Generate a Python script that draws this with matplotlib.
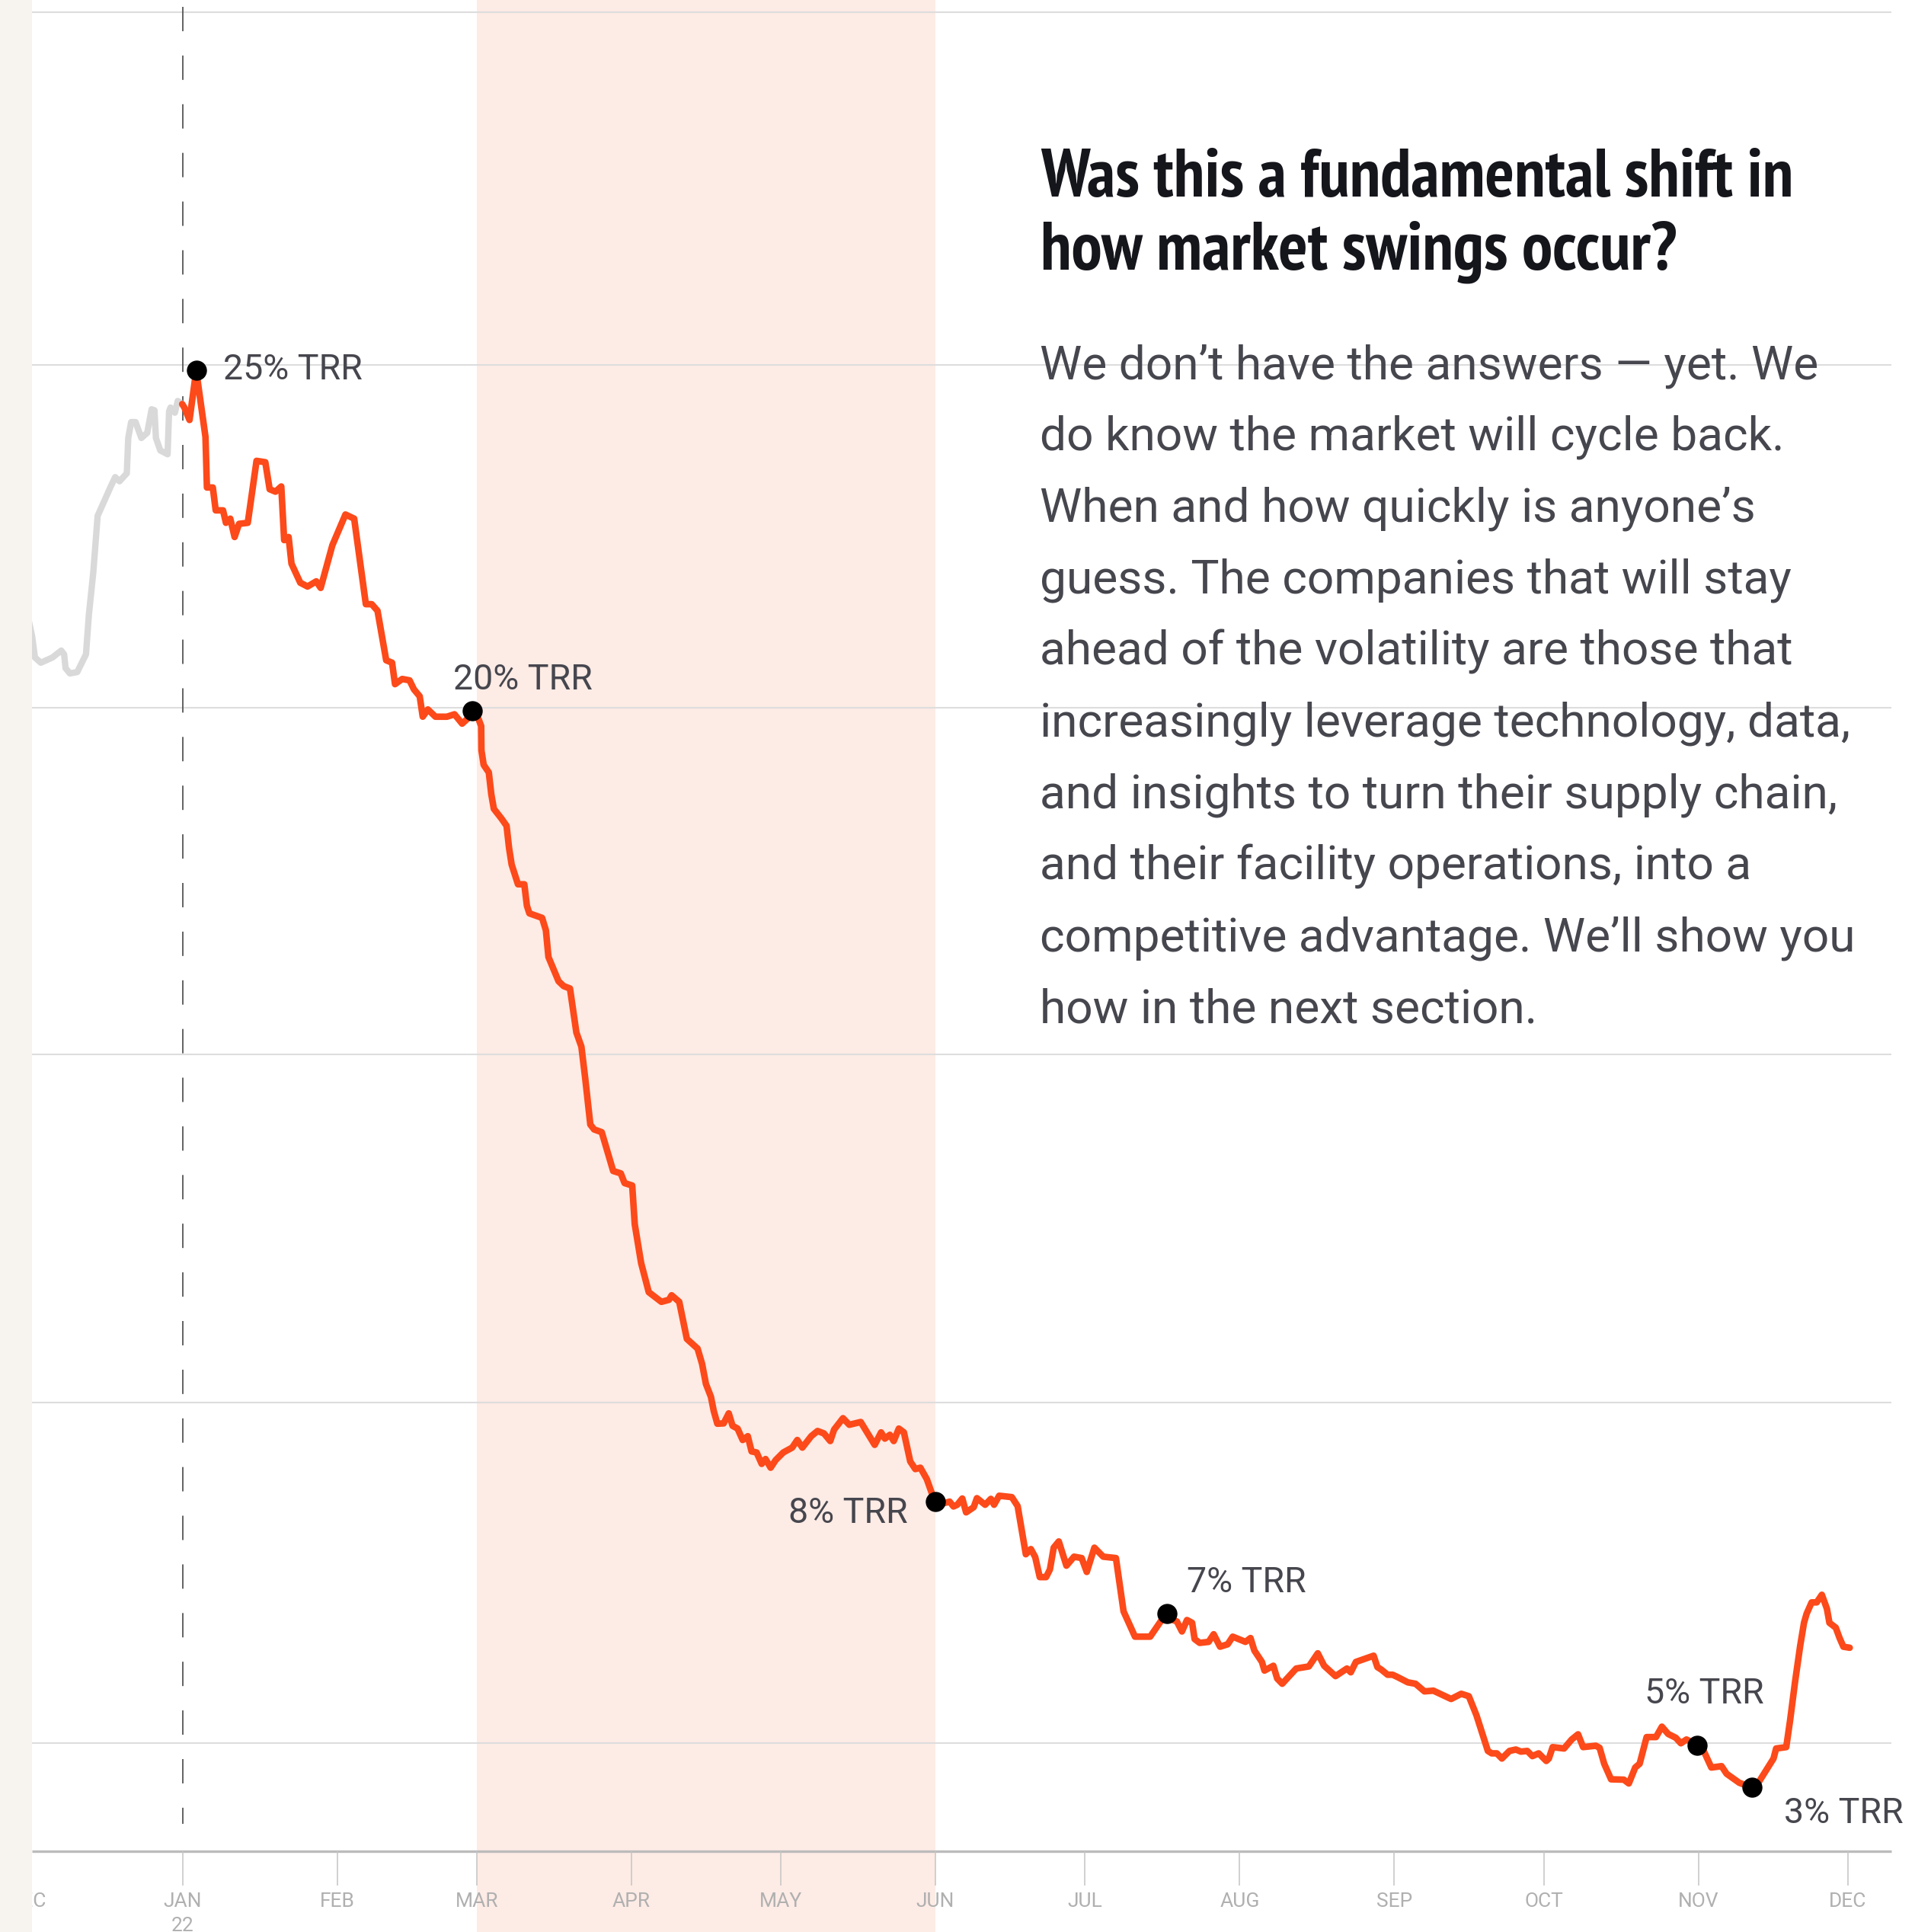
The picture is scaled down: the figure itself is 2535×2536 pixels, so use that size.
import numpy as np
import pandas as pd
import matplotlib
matplotlib.use("Agg")
import matplotlib.pyplot as plt
from matplotlib import font_manager as fm

plt.rcParams['lines.scale_dashes'] = False

# rate index, day offsets counted from 2022-01-01
prior_days = [-30.8, -30.17, -29.59, -28.41, -26.08, -24.32, -23.74, -23.45, -22.58, -21.11,
              -19.36, -18.78, -17.89, -17.02, -14.39, -13.50, -12.63, -11.17, -10.88, -10.30,
              -9.41, -8.25, -7.07, -6.20, -5.62, -5.33, -4.45, -2.99, -2.69, -2.40,
              -1.53, -0.95, -0.06]
prior_vals = [42.40, 41.98, 41.36, 41.21, 41.36, 41.56, 41.45, 41.05, 40.90, 40.94,
              41.45, 42.59, 43.82, 45.45, 46.30, 46.57, 46.45, 46.68, 47.70, 48.16,
              48.16, 47.70, 47.85, 48.53, 48.50, 47.70, 47.34, 47.23, 48.47, 48.58,
              48.43, 48.77, 48.68]

days = [0.37, 1.41, 2.75, 4.61, 4.90, 6.08, 6.66, 8.13, 8.71, 9.58,
        10.45, 11.34, 13.09, 14.85, 16.61, 17.48, 18.65, 19.81, 20.39, 21.28,
        21.86, 23.62, 25.08, 26.83, 27.71, 30.05, 32.68, 34.43, 36.77, 37.95,
        39.11, 40.85, 42.03, 42.62, 44.06, 45.54, 46.41, 47.57, 48.18, 49.21,
        50.73, 53.03, 54.55, 56.08, 57.61, 58.11, 59.38, 59.90, 59.95, 60.40,
        61.43, 61.93, 62.44, 63.96, 64.99, 65.49, 66.01, 67.28, 68.55, 69.07,
        69.57, 72.12, 72.88, 73.39, 75.42, 76.44, 77.71, 78.99, 80.00, 80.77,
        81.79, 82.55, 84.08, 86.37, 87.90, 88.66, 90.19, 90.70, 91.98, 93.51,
        96.04, 97.57, 98.09, 99.62, 101.15, 103.30, 104.20, 104.97, 105.97, 106.54,
        107.26, 108.53, 109.55, 110.31, 111.32, 112.34, 113.37, 114.13, 115.14, 116.16,
        116.93, 117.95, 118.96, 120.49, 122.27, 123.30, 124.31, 126.09, 127.36, 128.64,
        129.91, 130.68, 132.46, 133.73, 136.02, 138.82, 140.10, 140.86, 141.87, 142.64,
        143.66, 144.68, 145.95, 146.97, 147.98, 149.27, 150.28, 151.07, 152.57, 153.85,
        154.62, 155.38, 156.39, 157.15, 158.68, 159.32, 160.97, 162.12, 162.76, 163.78,
        166.32, 167.49, 169.13, 170.14, 171.01, 171.92, 173.19, 173.96, 174.72, 175.74,
        177.27, 178.80, 180.33, 181.35, 182.88, 184.65, 187.20, 188.73, 191.02, 194.07,
        196.36, 197.39, 198.66, 199.42, 200.44, 201.45, 202.48, 202.98, 204.00, 205.79,
        206.80, 208.08, 209.61, 210.62, 213.17, 214.19, 214.96, 216.48, 216.99, 218.77,
        219.54, 220.55, 223.36, 225.89, 227.68, 228.95, 231.24, 233.53, 234.30, 235.32,
        238.88, 239.64, 240.41, 241.69, 242.70, 243.72, 245.75, 247.28, 249.07, 250.86,
        254.42, 256.45, 257.97, 259.50, 261.79, 262.56, 263.58, 264.60, 266.13, 267.40,
        268.42, 269.69, 270.72, 271.98, 273.51, 274.02, 274.78, 277.07, 278.60, 279.88,
        280.89, 283.44, 284.20, 285.12, 286.50, 289.05, 290.06, 291.34, 292.23, 293.63,
        295.51, 296.69, 297.95, 299.48, 300.50, 301.62, 303.80, 305.08, 306.61, 308.65,
        309.67, 312.21, 314.76, 316.03, 317.81, 319.08, 319.60, 321.63, 322.40, 323.42,
        324.43, 325.19, 325.71, 326.72, 327.74, 328.77, 329.78, 330.29, 331.56, 332.33,
        333.09, 334.36]
vals = [48.58, 48.22, 49.65, 47.73, 46.27, 46.27, 45.61, 45.61, 45.25, 45.37,
        44.84, 45.22, 45.25, 47.04, 47.00, 46.22, 46.15, 46.30, 44.75, 44.84,
        44.07, 43.52, 43.41, 43.56, 43.37, 44.60, 45.49, 45.37, 42.90, 42.90,
        42.71, 41.28, 41.21, 40.59, 40.74, 40.70, 40.44, 40.24, 39.65, 39.86,
        39.65, 39.65, 39.72, 39.45, 39.65, 39.82, 39.58, 39.38, 38.68, 38.26,
        38.04, 37.41, 36.99, 36.71, 36.50, 35.86, 35.38, 34.81, 34.81, 34.19,
        33.97, 33.84, 33.48, 32.71, 32.01, 31.87, 31.80, 30.53, 30.12, 29.20,
        27.87, 27.73, 27.65, 26.53, 26.46, 26.18, 26.11, 24.99, 23.87, 23.03,
        22.75, 22.81, 22.94, 22.75, 21.68, 21.40, 20.96, 20.38, 20.01, 19.60,
        19.23, 19.24, 19.53, 19.17, 19.09, 18.76, 18.87, 18.43, 18.40, 18.07,
        18.21, 17.96, 18.18, 18.40, 18.54, 18.76, 18.54, 18.87, 19.02, 18.95,
        18.73, 19.06, 19.39, 19.20, 19.28, 18.62, 18.98, 18.80, 18.91, 18.73,
        19.09, 18.98, 18.14, 17.92, 17.96, 17.63, 17.22, 16.98, 16.93, 16.98,
        16.84, 16.89, 17.07, 16.67, 16.82, 17.08, 16.89, 17.06, 16.89, 17.15,
        17.11, 16.85, 15.46, 15.61, 15.38, 14.80, 14.80, 15.02, 15.65, 15.83,
        15.13, 15.39, 15.35, 14.95, 15.65, 15.39, 15.35, 13.81, 13.08, 13.08,
        13.56, 13.75, 13.56, 13.52, 13.23, 13.56, 13.48, 13.01, 12.90, 12.93,
        13.15, 12.79, 12.86, 13.08, 12.93, 13.04, 12.68, 12.35, 12.10, 12.24,
        11.87, 11.72, 12.16, 12.22, 12.60, 12.24, 11.94, 12.16, 12.05, 12.35,
        12.53, 12.20, 12.13, 11.98, 11.98, 11.91, 11.76, 11.72, 11.50, 11.52,
        11.28, 11.43, 11.36, 10.81, 9.78, 9.71, 9.71, 9.56, 9.78, 9.82,
        9.76, 9.78, 9.63, 9.71, 9.49, 9.56, 9.89, 9.85, 10.11, 10.26,
        9.89, 9.93, 9.87, 9.41, 8.96, 8.95, 8.84, 9.30, 9.41, 10.18,
        10.18, 10.48, 10.27, 10.16, 10.00, 10.11, 9.95, 9.78, 9.30, 9.34,
        9.12, 8.86, 8.72, 8.86, 9.27, 9.56, 9.85, 9.89, 10.66, 11.80,
        12.82, 13.48, 13.74, 14.07, 14.07, 14.29, 13.89, 13.48, 13.34, 13.04,
        12.79, 12.76]

# TRR call-outs: day of the marker, label
trr_days = [2.75, 58.11, 151.07, 197.39, 303.80, 314.76]
trr_labels = ["25% TRR", "20% TRR", "8% TRR", "7% TRR", "5% TRR", "3% TRR"]
# label offsets from the marker (points) and alignment
trr_offsets = [(25.2, -8.3), (-18.3, 20.2), (-26.5, -20.4), (19.2, 20.4), (-49.7, 39.4), (30.0, -33.6)]
trr_ha = ["left", "left", "right", "left", "left", "left"]

grid_vals = [10.0, 19.84, 29.9, 39.92, 49.81, 60.0]
shade_start, shade_end = 59, 151      # Mar 1 .. Jun 1

month_starts = pd.date_range("2021-12-01", "2022-12-01", freq="MS")
month_days = list((month_starts - pd.Timestamp("2022-01-01")).days)
month_labels = [d.strftime("%b").upper() for d in month_starts]

title_lines = ["Was this a fundamental shift in", "how market swings occur?"]
body_lines = [
    "We don\u2019t have the answers \u2014 yet. We",
    "do know the market will cycle back.",
    "When and how quickly is anyone\u2019s",
    "guess. The companies that will stay",
    "ahead of the volatility are those that",
    "increasingly leverage technology, data,",
    "and insights to turn their supply chain,",
    "and their facility operations, into a",
    "competitive advantage. We\u2019ll show you",
    "how in the next section.",
]

W, H = 2535, 2536
ORANGE = "#fc4a1a"
TEXT = "#46464e"


def condensed_bold():
    # look for a narrow/condensed bold face for the headline
    ranked = []
    for f in fm.fontManager.ttflist:
        fname = f.fname.lower().replace("-", "").replace("_", "")
        name = f.name.lower()
        narrow = ("narrow" in name or "condensed" in name or "narrow" in fname
                  or "condensed" in fname or f.stretch != "normal")
        try:
            w = int(f.weight)
        except ValueError:
            w = 700 if "bold" in str(f.weight) else 400
        if not narrow or w < 600:
            continue
        if "narrow" in name or "narrow" in fname:
            rank = 0
        elif "extracondensed" in fname:
            rank = 1
        elif "semicondensed" in fname:
            rank = 3
        else:
            rank = 2
        if "italic" in fname or f.style != "normal":
            continue
        ranked.append((rank, abs(w - 700), f.fname))
    if ranked:
        ranked.sort()
        return fm.FontProperties(fname=ranked[0][2])
    return fm.FontProperties(family="DejaVu Sans", weight="bold")


fig = plt.figure(figsize=(W / 100, H / 100), dpi=100)
ax = fig.add_axes([0, 0, 1, 1])
ax.set_xlim(-36.6, 350.66)
ax.set_ylim(4.55, 60.35)
ax.axis("off")


def px(x, y):
    return x / W, 1 - y / H


x_left, x_right = -30.23, 342.7
base_y = 6.88

ax.axvspan(shade_start, shade_end, color="#fdebe5", lw=0, zorder=0)
ax.hlines(grid_vals, x_left, x_right, color="#dddddd", lw=1.5, zorder=1)
ax.hlines(base_y, x_left, x_right, color="#bcbcbc", lw=2.4, zorder=2)
ax.vlines(month_days, 5.892, base_y, color="#c4c4c4", lw=1.1, zorder=2)
for d, lab in zip(month_days, month_labels):
    ax.text(d, 5.283, lab, ha="center", va="baseline", fontsize=19,
            family="Roboto", color="#b0b0b0", zorder=2)
ax.text(0, 4.572, "22", ha="center", va="baseline", fontsize=19,
        family="Roboto", color="#b0b0b0", zorder=2)

# year boundary marker
ax.plot([0, 0], [60.15, 7.67], color="#555555", lw=1.3,
        linestyle=(0, (23, 23)), zorder=2)

ax.plot(prior_days, prior_vals, color="#d9d9d9", lw=6.0,
        solid_joinstyle="round", solid_capstyle="round", zorder=3)
ax.plot([prior_days[-1]] + days, [prior_vals[-1]] + vals, color=ORANGE, lw=6.2,
        solid_joinstyle="round", solid_capstyle="round", zorder=4)

trr_vals = np.interp(trr_days, days, vals)
ax.plot(trr_days, trr_vals, "o", color="black", ms=18, zorder=5)
for d, v, lab, off, ha in zip(trr_days, trr_vals, trr_labels, trr_offsets, trr_ha):
    ax.annotate(lab, (d, v), xytext=off, textcoords="offset points",
                ha=ha, va="baseline", fontsize=33.5, family="Roboto",
                color=TEXT, zorder=6)

# left margin strip sits over everything
ax.axvspan(-36.6, x_left, color="#f7f3ef", lw=0, zorder=10)

# headline, sized so the first line spans ~987 px
head_fp = condensed_bold()
head_fp.set_size(58.9)
titles = [fig.text(*px(1366, 258 + i * 95), line, ha="left", va="baseline",
                   fontproperties=head_fp, color="#15151c")
          for i, line in enumerate(title_lines)]
renderer = fig.canvas.get_renderer()
width = titles[0].get_window_extent(renderer).width
size = 58.9 * 987 / width
for t in titles:
    t.set_fontsize(size)

for i, line in enumerate(body_lines):
    fig.text(*px(1365, 497 + i * 93.9), line, ha="left", va="baseline",
             fontsize=44.8, family="Roboto", color=TEXT)

fig.savefig("out.png", dpi=100)
